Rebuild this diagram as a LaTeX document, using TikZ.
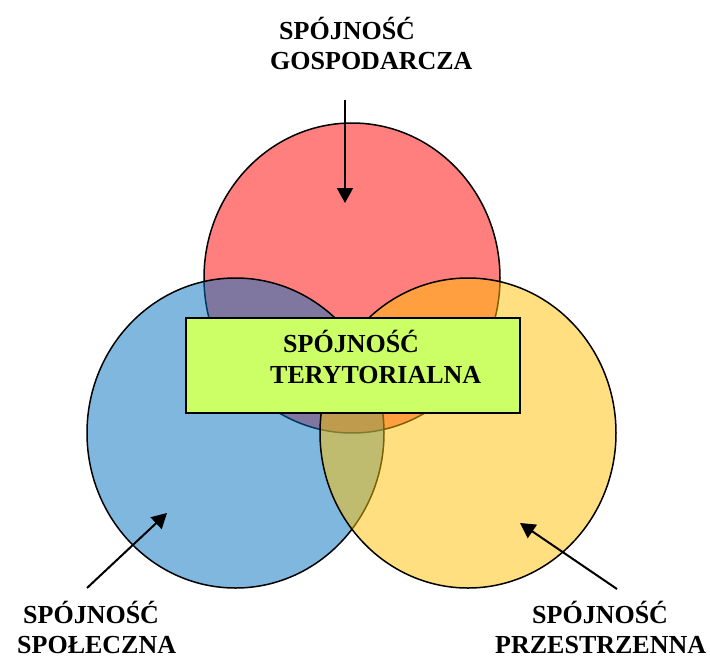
\documentclass[tikz,border=0pt]{standalone}
\usepackage{fontspec}
\setmainfont{Liberation Serif}
\usetikzlibrary{arrows.meta}
\definecolor{cred}{HTML}{FF0000}
\definecolor{cblue}{HTML}{0070C0}
\definecolor{cyellow}{HTML}{FFC000}
\definecolor{cgreen}{HTML}{CCFF66}
\tikzset{
  circ/.style={draw=black, line width=1.5pt, fill opacity=0.5},
  lbl/.style={anchor=base west, inner sep=0pt, font=\fontsize{26}{30}\selectfont\bfseries},
  pointer/.style={line width=2pt, -{Triangle[length=15pt,width=16pt]}},
  box/.style={draw=black, line width=2pt, fill=cgreen, minimum width=334pt, minimum height=95pt, inner sep=0pt}
}
\begin{document}
\begin{tikzpicture}[x=1pt,y=-1pt]
\useasboundingbox (0,0) rectangle (710,657);
% circles
\draw[circ, fill=cred] (352,278) ellipse [x radius=148, y radius=155];
\draw[circ, fill=cblue] (235.5,433) ellipse [x radius=148.5, y radius=155];
\draw[circ, fill=cyellow] (468,433) ellipse [x radius=148, y radius=155];
% central box
\node[box] (ter) at (352.5,365) {};
\node[lbl] (ter1) at (283,352) {SPÓJNOŚĆ};
\node[lbl] (ter2) at (270,383) {TERYTORIALNA};
% labels
\node[lbl] (gosp1) at (279,39) {SPÓJNOŚĆ};
\node[lbl] (gosp2) at (270,69) {GOSPODARCZA};
\node[lbl] (spol1) at (23,623) {SPÓJNOŚĆ};
\node[lbl] (spol2) at (17,653) {SPOŁECZNA};
\node[lbl] (prze1) at (532,623) {SPÓJNOŚĆ};
\node[lbl] (prze2) at (495,653) {PRZESTRZENNA};
% arrows
\coordinate (a1s) at (345,100);
\coordinate (a1e) at (345,203);
\coordinate (a2s) at (87,588);
\coordinate (a2e) at (167,513);
\coordinate (a3s) at (617,589);
\coordinate (a3e) at (520,523);
\draw[pointer] (a1s) -- (a1e);
\draw[pointer] (a2s) -- (a2e);
\draw[pointer] (a3s) -- (a3e);
\end{tikzpicture}
\end{document}
